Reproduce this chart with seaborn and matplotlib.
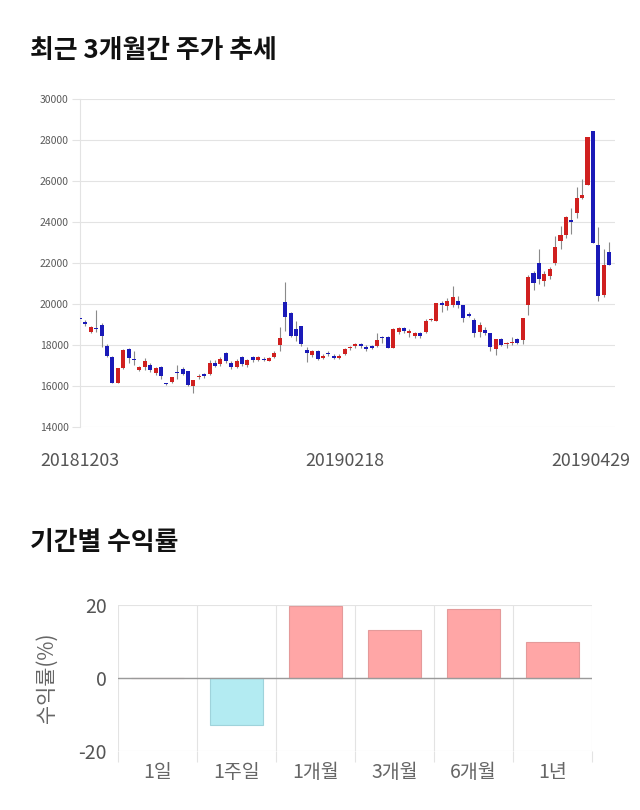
import numpy as np
import pandas as pd
import matplotlib
matplotlib.use("Agg")
import matplotlib.pyplot as plt
import matplotlib.transforms as mtrans
import seaborn as sns

# ---------------- data ----------------
date_labels = ["20181203", "20190218", "20190429"]
date_pos = [0, 49, 98]

opens = [19280, 19140, 18620, 18800, 18980, 17970, 17400, 16160, 16870, 17810,
         17300, 16760, 16920, 17030, 16630, 16920, 16140, 16220, 16680, 16840,
         16710, 16000, 16440, 16580, 16610, 17130, 17070, 17620, 17130, 16920,
         17410, 17030, 17410, 17290, 17330, 17210, 17410, 18010, 20110, 19550,
         18780, 18910, 17770, 17510, 17710, 17380, 17610, 17480, 17350, 17560,
         17850, 17950, 18030, 17920, 17930, 17970, 18410, 18370, 17840, 18650,
         18810, 18570, 18460, 18570, 18650, 19200, 19190, 20050, 19900, 19930,
         20130, 19930, 19530, 19230, 18630, 18710, 18580, 17820, 18280, 18030,
         18100, 18310, 18230, 19930, 21520, 22010, 21100, 21360, 22010, 23050,
         23390, 24120, 24430, 25160, 25810, 28420, 22890, 20420, 22530]
highs = [19350, 19200, 18950, 19720, 19050, 18050, 17450, 16900, 17800, 17850,
         17730, 17000, 17350, 17100, 16950, 17000, 16150, 16450, 17030, 16950,
         16750, 16300, 16600, 16650, 17250, 17250, 17400, 17650, 17200, 17300,
         17450, 17300, 17450, 17450, 17400, 17400, 17700, 18870, 21050, 19600,
         19190, 18950, 17890, 17750, 17750, 17550, 17700, 17550, 17550, 17850,
         17950, 18100, 18100, 18000, 18000, 18600, 18450, 18450, 18850, 18900,
         18900, 18800, 18650, 18650, 19250, 19300, 20050, 20150, 20300, 20900,
         20400, 19950, 19600, 19300, 19100, 18900, 18600, 18300, 18350, 18150,
         18400, 18350, 19310, 21400, 21600, 22690, 21600, 21800, 23300, 23800,
         24300, 24700, 25700, 26100, 28150, 28450, 23750, 22690, 23020]
lows = [19100, 18950, 18600, 18620, 17900, 17400, 16150, 16150, 16850, 17100,
        17030, 16750, 16800, 16700, 16550, 16350, 16050, 16150, 16350, 16550,
        16000, 15650, 16350, 16400, 16550, 16950, 17000, 17100, 16850, 16900,
        17000, 16950, 17150, 17200, 17200, 17200, 17350, 17730, 18700, 18400,
        18210, 17950, 17190, 17400, 17250, 17300, 17450, 17300, 17300, 17500,
        17750, 17850, 17850, 17700, 17800, 17900, 18100, 17840, 17840, 18550,
        18600, 18400, 18350, 18350, 18600, 19150, 19150, 19600, 19700, 19850,
        19800, 19100, 19350, 18400, 18400, 18500, 17700, 17500, 17950, 17850,
        18000, 18050, 18050, 19450, 20700, 21000, 20900, 21200, 21900, 22700,
        23200, 23400, 24200, 25100, 25800, 22970, 20130, 20350, 21900]
closes = [19250, 19010, 18870, 18780, 18430, 17450, 16160, 16870, 17780, 17360,
          17280, 16920, 17210, 16760, 16890, 16470, 16080, 16430, 16620, 16610,
          16060, 16270, 16500, 16470, 17130, 17000, 17330, 17230, 16920, 17200,
          17070, 17250, 17250, 17410, 17250, 17380, 17620, 18330, 19350, 18460,
          18460, 18050, 17610, 17710, 17320, 17480, 17540, 17380, 17480, 17800,
          17920, 18030, 17930, 17800, 17870, 18260, 18340, 17840, 18780, 18810,
          18700, 18700, 18590, 18460, 19190, 19270, 20030, 19930, 20130, 20340,
          19930, 19310, 19410, 18580, 18990, 18600, 17900, 18280, 18020, 18100,
          18150, 18100, 19310, 21310, 21040, 21230, 21470, 21720, 22770, 23370,
          24230, 24020, 25180, 25320, 28130, 22970, 20390, 21880, 21910]

periods = ["1일", "1주일", "1개월", "3개월", "6개월", "1년"]
returns = [0.0, -13.0, 19.8, 13.1, 19.0, 9.8]

# ---------------- style ----------------
sns.set_theme(style="white")
plt.rcParams['font.family'] = ['Noto Sans CJK KR', 'DejaVu Sans']

RED = "#d0201f"
BLUE = "#1a1ab8"
GRID = "#e3e3e3"

fig = plt.figure(figsize=(6.4, 8.1), dpi=100)
fig.patch.set_facecolor("white")

# ---------------- candlestick chart ----------------
ax1 = fig.add_axes([0.125, 0.4728, 0.836, 0.405])
x = np.arange(len(opens))
o = np.array(opens)
c = np.array(closes)
up = c >= o
cols = np.where(up, RED, BLUE)
ax1.vlines(x, lows, highs, color="#8a8a8a", linewidth=0.8, zorder=2)
body_bottom = np.minimum(o, c)
body_height = np.maximum(np.abs(c - o), 45)
ax1.bar(x, body_height, bottom=body_bottom, width=0.75, color=cols,
        linewidth=0, zorder=3)

ax1.set_ylim(14000, 30000)
ax1.set_xlim(0, 99.1)
ax1.set_yticks(range(14000, 30001, 2000))
ax1.set_yticklabels([str(v) for v in range(14000, 30001, 2000)])
ax1.yaxis.grid(True, color=GRID, linewidth=0.8)
ax1.xaxis.grid(False)
for s in ["top", "right", "bottom"]:
    ax1.spines[s].set_visible(False)
ax1.spines["left"].set_color(GRID)
ax1.spines["left"].set_linewidth(0.8)
ax1.tick_params(axis="y", length=6, width=0.8, color=GRID, labelsize=7.5,
                labelcolor="#5a5a5a", pad=2, left=True)
ax1.set_xticks(date_pos)
ax1.set_xticklabels(date_labels)
ax1.tick_params(axis="x", length=0, labelsize=12.8, labelcolor="#555555", pad=18)
last = ax1.get_xticklabels()[-1]
last.set_ha("right")
last.set_transform(last.get_transform() +
                   mtrans.ScaledTranslation(21 / 100, 0, fig.dpi_scale_trans))

fig.text(30 / 640, 1 - 50 / 810, "최근 3개월간 주가 추세", fontsize=18.6,
         fontweight="bold", color="#111111", ha="left", va="center")

# ---------------- returns bar chart ----------------
ax2 = fig.add_axes([0.1844, 0.0728, 0.7406, 0.1802])
df = pd.DataFrame({"period": periods, "ret": returns})
bar_colors = ["#ffa6a6" if v >= 0 else "#b3ebf2" for v in returns]
edge_colors = ["#e49a9a" if v >= 0 else "#9fd3db" for v in returns]
sns.barplot(data=df, x="period", y="ret", hue="period", palette=bar_colors,
            legend=False, width=0.68, saturation=1, ax=ax2, zorder=3)
for p, ec in zip(ax2.patches, edge_colors):
    p.set_edgecolor(ec)
    p.set_linewidth(0.8)

ax2.set_ylim(-20, 20)
ax2.set_xlim(-0.5, len(periods) - 0.5)
ax2.set_yticks([-20, 0, 20])
ax2.set_yticklabels(["-20", "0", "20"])
ax2.set_xticks(np.arange(-0.5, len(periods), 1.0), minor=True)
ax2.xaxis.grid(True, which="minor", color=GRID, linewidth=0.8)
ax2.xaxis.grid(False, which="major")
ax2.yaxis.grid(True, color=GRID, linewidth=0.8)
ax2.axhline(0, color="#9a9a9a", linewidth=1.0, zorder=4)
for s in ["top", "right", "bottom", "left"]:
    ax2.spines[s].set_visible(False)
ax2.tick_params(axis="x", which="minor", length=8, width=0.8, color=GRID,
                bottom=True, direction="out")
ax2.tick_params(axis="x", which="major", length=0, labelsize=14,
                labelcolor="#666666", pad=8)
ax2.tick_params(axis="y", length=0, labelsize=14, labelcolor="#555555", pad=8)
ax2.set_xlabel("")
ax2.set_ylabel("수익률(%)", fontsize=15, color="#666666", labelpad=15)

fig.text(30 / 640, 1 - 543 / 810, "기간별 수익률", fontsize=18.6,
         fontweight="bold", color="#111111", ha="left", va="center")

fig.savefig("out.png", dpi=100, facecolor="white")
